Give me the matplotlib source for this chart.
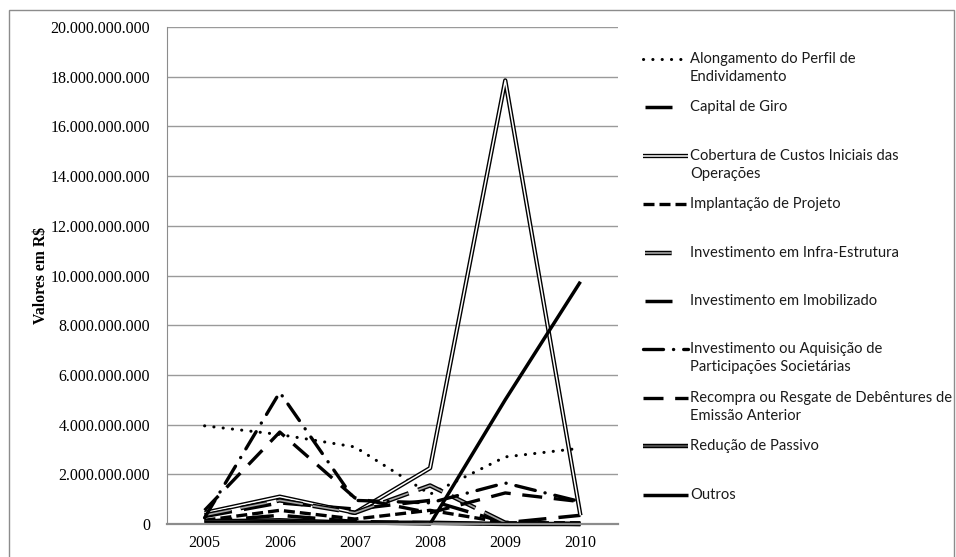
import matplotlib
matplotlib.use("Agg")
import matplotlib.pyplot as plt
import matplotlib.patheffects as pe
from matplotlib.lines import Line2D
from matplotlib.patches import Rectangle
from matplotlib.ticker import FuncFormatter

# Valores por finalidade (em bilhões de R$)
years = ["2005", "2006", "2007", "2008", "2009", "2010"]

alongamento = [3.95, 3.6, 3.1, 1.2, 2.7, 3.05]
capital_giro = [0.3, 0.85, 0.6, 0.95, 0.05, 0.35]
cobertura = [0.45, 1.1, 0.45, 2.25, 17.85, 0.35]
implantacao = [0.15, 0.55, 0.2, 0.55, 0.05, 0.05]
infra = [0.35, 0.95, 0.45, 1.55, 0.05, 0.0]
imobilizado = [0.1, 0.35, 0.1, 0.05, 0.0, 0.0]
aquisicao = [0.25, 5.3, 0.95, 0.85, 1.65, 0.9]
recompra = [0.55, 3.7, 1.05, 0.45, 1.25, 0.9]
reducao = [0.1, 0.15, 0.05, 0.05, 0.0, 0.0]
outros = [0.05, 0.1, 0.05, 0.0, 5.0, 9.75]

labels = [
    "Alongamento do Perfil de\nEndividamento",
    "Capital de Giro",
    "Cobertura de Custos Iniciais das\nOperações",
    "Implantação de Projeto",
    "Investimento em Infra-Estrutura",
    "Investimento em Imobilizado",
    "Investimento ou Aquisição de\nParticipações Societárias",
    "Recompra ou Resgate de Debêntures de\nEmissão Anterior",
    "Redução de Passivo",
    "Outros",
]
series = [alongamento, capital_giro, cobertura, implantacao, infra,
          imobilizado, aquisicao, recompra, reducao, outros]

W, H = 956, 557


def double(outer, inner_color):
    return dict(color=inner_color,
                path_effects=[pe.Stroke(linewidth=outer, foreground="black"), pe.Normal()])


# estilo de cada série; "short" = amostra curta na legenda
styles = [
    dict(color="black", lw=2.2, ls=(0, (0.05, 3.0)), dash_capstyle="round"),
    dict(color="black", lw=2.5, ls=(0, (8.0, 3.5))),
    dict(lw=1.1, ls="-", **double(3.1, "white")),
    dict(color="black", lw=2.4, ls=(0, (3.3, 1.5))),
    dict(lw=1.2, ls=(0, (16.0, 6.0)), **double(3.2, "#a6a6a6")),
    dict(color="black", lw=2.5, ls=(0, (8.0, 4.0))),
    dict(color="black", lw=2.4, ls=(0, (6.0, 3.0, 0.05, 3.0)), dash_capstyle="round"),
    dict(color="black", lw=2.4, ls=(0, (6.0, 3.5))),
    dict(lw=1.2, ls="-", **double(3.2, "#595959")),
    dict(color="black", lw=2.5, ls="-"),
]
short_sample = [False, True, False, False, True, True, False, False, False, False]

fig = plt.figure(figsize=(W / 100, H / 100), dpi=100)
fig.patches.append(Rectangle((9 / W, -0.05), 945 / W, 1.05 - 10 / H,
                             transform=fig.transFigure, fill=False,
                             edgecolor="#8c8c8c", lw=1.0))

ax = fig.add_axes([167 / W, 1 - 524 / H, (618 - 167) / W, (524 - 27) / H])

x = list(range(len(years)))
for vals, st in zip(series, styles):
    ax.plot(x, [v * 1e9 for v in vals], clip_on=False, solid_capstyle="butt", **st)

ax.set_xlim(-0.5, len(years) - 0.5)
ax.set_ylim(0, 20e9)
ax.set_yticks([i * 2e9 for i in range(11)])
ax.yaxis.set_major_formatter(FuncFormatter(lambda v, p: f"{int(round(v)):,}".replace(",", ".")))
ax.set_xticks(x)
ax.set_xticklabels(years)
ax.grid(axis="y", color="#9a9a9a", lw=1.0)
ax.set_axisbelow(True)
ax.tick_params(length=0, labelsize=11.5)
for lab in ax.get_xticklabels() + ax.get_yticklabels():
    lab.set_family("Liberation Serif")
ax.tick_params(axis="y", pad=12)
ax.tick_params(axis="x", pad=8)
for side in ["top", "right"]:
    ax.spines[side].set_visible(False)
ax.spines["left"].set_color("#8c8c8c")
ax.spines["bottom"].set_color("#8c8c8c")
ax.spines["bottom"].set_linewidth(1.6)
ax.set_ylabel("Valores em R$", family="Liberation Serif", fontweight="bold",
              fontsize=11.3, labelpad=1.5)

# legenda desenhada à mão para alinhar a amostra com a primeira linha
for i, (lab, st, short) in enumerate(zip(labels, styles, short_sample)):
    y0 = 59 + 48.4 * i
    x0, x1 = (645, 672) if short else (643, 688)
    ln = Line2D([x0 / W, x1 / W], [1 - y0 / H, 1 - y0 / H], transform=fig.transFigure,
                solid_capstyle="butt", **st)
    fig.lines.append(ln)
    for j, part in enumerate(lab.split("\n")):
        fig.text(690 / W, 1 - (y0 + 18 * j) / H, part, va="center", ha="left",
                 family="Lato", fontsize=10.6, color="#1a1a1a")

fig.savefig("out.png", dpi=100)
